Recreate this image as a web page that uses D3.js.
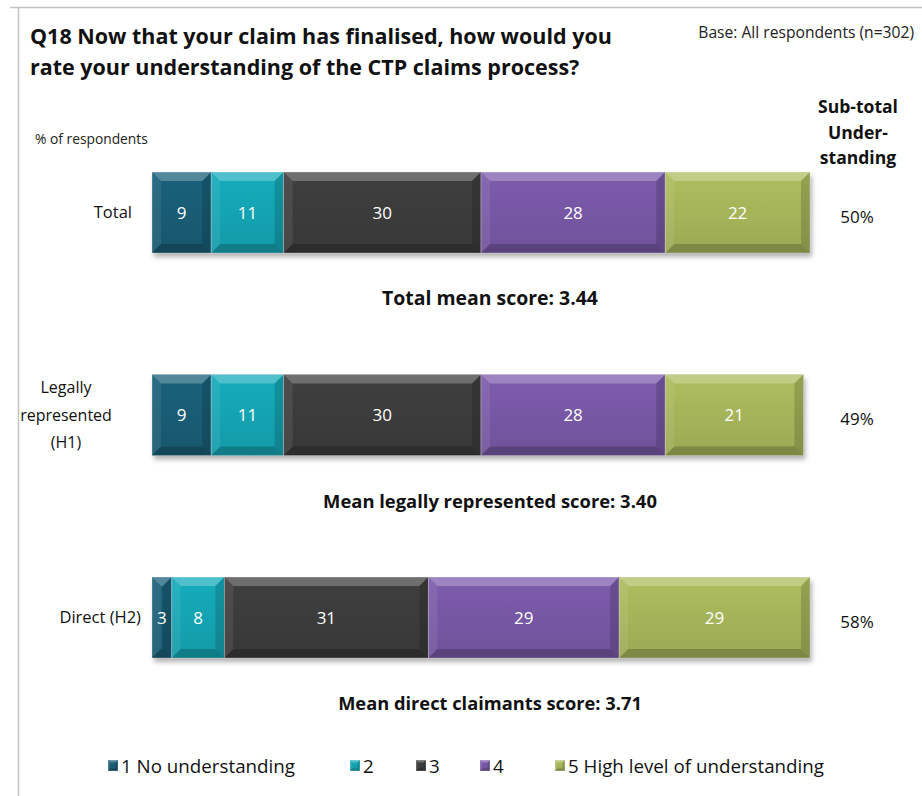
<!DOCTYPE html>
<html>
<head>
<meta charset="utf-8">
<script src="https://cdn.jsdelivr.net/npm/d3@7"></script>
<style>
  html, body { margin: 0; padding: 0; background: #fff; }
  svg { display: block; font-family: "Open Sans", Lato, sans-serif; }
</style>
</head>
<body>
<svg id="chart" width="922" height="796"></svg>
<script>
// Q18 understanding of the CTP claims process, % of respondents
const categories = ["Total", "Legally represented (H1)", "Direct (H2)"];
const categoryLines = [["Total"], ["Legally", "represented", "(H1)"], ["Direct (H2)"]];
const ratingLabels = ["1 No understanding", "2", "3", "4", "5 High level of understanding"];
const score1 = [9, 9, 3];
const score2 = [11, 11, 8];
const score3 = [30, 30, 31];
const score4 = [28, 28, 29];
const score5 = [22, 21, 29];
const subTotals = ["50%", "49%", "58%"];
const meanLabels = ["Total mean score: 3.44", "Mean legally represented score: 3.40", "Mean direct claimants score: 3.71"];
const seriesValues = [score1, score2, score3, score4, score5];
const xDomain = [0, 100];

const colors = ["#195d76", "#14a5b4", "#3c3c3c", "#7858a6", "#a7b65a"];

const svg = d3.select("#chart");
const defs = svg.append("defs");

// scale a text's font size so that it spans the given width
function fitWidth(sel, width) {
  const len = sel.node().getComputedTextLength();
  const fs = +sel.attr("font-size");
  const nfs = fs * width / len;
  sel.attr("font-size", nfs);
  return nfs;
}

// soft drop shadow under the bars
const shadow = defs.append("filter").attr("id", "shadow")
  .attr("x", "-5%").attr("y", "-10%").attr("width", "115%").attr("height", "140%");
shadow.append("feDropShadow").attr("dx", 2).attr("dy", 4).attr("stdDeviation", 2.5)
  .attr("flood-color", "#000").attr("flood-opacity", 0.3);

// vertical sheen for each colour
colors.forEach((c, i) => {
  const g = defs.append("linearGradient").attr("id", "grad" + i)
    .attr("x1", 0).attr("y1", 0).attr("x2", 0).attr("y2", 1);
  g.append("stop").attr("offset", "0%").attr("stop-color", d3.color(c).brighter(0.12));
  g.append("stop").attr("offset", "100%").attr("stop-color", d3.color(c).darker(0.2));
});

// frame
svg.append("line").attr("x1", 10).attr("x2", 922).attr("y1", 7.5).attr("y2", 7.5)
  .attr("stroke", "#c4c4c4").attr("stroke-width", 1.5);
svg.append("line").attr("x1", 18.5).attr("x2", 18.5).attr("y1", 7).attr("y2", 796)
  .attr("stroke", "#c4c4c4").attr("stroke-width", 1.5);

// title
const t1 = svg.append("text").attr("x", 30).attr("y", 44).attr("font-weight", 700)
  .attr("font-size", 20).attr("fill", "#111")
  .text("Q18 Now that your claim has finalised, how would you");
const titleSize = fitWidth(t1, 582);
svg.append("text").attr("x", 30).attr("y", 75).attr("font-weight", 700)
  .attr("font-size", titleSize).attr("fill", "#111")
  .text("rate your understanding of the CTP claims process?");

const base = svg.append("text").attr("x", 914).attr("y", 38).attr("text-anchor", "end")
  .attr("font-size", 12).attr("fill", "#222").text("Base: All respondents (n=302)");
fitWidth(base, 216);

const pct = svg.append("text").attr("x", 35).attr("y", 144).attr("font-size", 12).attr("fill", "#222")
  .text("% of respondents");
fitWidth(pct, 113);

const subLines = ["Sub-total", "Under-", "standing"];
let subSize = 15;
subLines.forEach((t, i) => {
  const s = svg.append("text").attr("x", 858).attr("y", 113 + i * 25.5)
    .attr("text-anchor", "middle").attr("font-weight", 700)
    .attr("font-size", 15).attr("fill", "#111").text(t);
  if (i === 0) subSize = fitWidth(s, 80); else s.attr("font-size", subSize);
});

// scales
const x = d3.scaleLinear().domain(xDomain).range([152, 810]);
const y = d3.scalePoint().domain(categories).range([212.5, 617.5]);
const barH = 81;

// stacked layout
const rows = categories.map((cat, ci) => {
  let acc = 0;
  return seriesValues.map((vals, si) => {
    const v = vals[ci];
    const seg = { cat, ci, si, v, x0: acc, x1: acc + v };
    acc += v;
    return seg;
  });
});

function bevelSegment(g, x0, x1, yTop, h, si, b, label, fontSize) {
  const w = x1 - x0;
  const bb = Math.min(b, w / 2, h / 2);
  g.append("rect").attr("x", x0).attr("y", yTop).attr("width", w).attr("height", h)
    .attr("fill", `url(#grad${si})`);
  const yb = yTop + h, xr = x1;
  const poly = (pts, fill, op) => g.append("polygon")
    .attr("points", pts.map(p => p.join(",")).join(" "))
    .attr("fill", fill).attr("fill-opacity", op);
  poly([[x0, yTop], [xr, yTop], [xr - bb, yTop + bb], [x0 + bb, yTop + bb]], "#fff", 0.25);
  poly([[x0, yTop], [x0 + bb, yTop + bb], [x0 + bb, yb - bb], [x0, yb]], "#fff", 0.08);
  poly([[xr, yTop], [xr, yb], [xr - bb, yb - bb], [xr - bb, yTop + bb]], "#000", 0.15);
  poly([[x0, yb], [xr, yb], [xr - bb, yb - bb], [x0 + bb, yb - bb]], "#000", 0.2);
  g.append("rect").attr("x", x0).attr("y", yTop).attr("width", w).attr("height", h)
    .attr("fill", "none").attr("stroke", "#fff").attr("stroke-opacity", 0.35).attr("stroke-width", 0.8);
  if (label !== null) {
    g.append("text").attr("x", (x0 + x1) / 2).attr("y", yTop + h / 2)
      .attr("dy", "0.36em").attr("text-anchor", "middle")
      .attr("font-size", fontSize).attr("fill", "#fff").text(label);
  }
}

const meanWidths = [216, 334, 304];

rows.forEach((segs, ci) => {
  const cy = y(categories[ci]);
  const yTop = cy - barH / 2;
  const g = svg.append("g");
  g.append("rect").attr("x", x(0)).attr("y", yTop)
    .attr("width", x(segs[segs.length - 1].x1) - x(0)).attr("height", barH)
    .attr("fill", "#888").attr("filter", "url(#shadow)");
  segs.forEach(s => bevelSegment(g, x(s.x0), x(s.x1), yTop, barH, s.si, 9, String(s.v), 17));

  // category label
  const lines = categoryLines[ci];
  const lab = svg.append("text").attr("font-size", 16.5).attr("fill", "#111");
  if (lines.length === 1) {
    lab.attr("text-anchor", "end").append("tspan")
      .attr("x", ci === 0 ? 132 : 141).attr("y", cy).attr("dy", "0.36em").text(lines[0]);
  } else {
    lab.attr("font-size", 16).attr("text-anchor", "middle");
    lines.forEach((t, i) => lab.append("tspan").attr("x", 66)
      .attr("y", cy + (i - (lines.length - 1) / 2) * 27.5).attr("dy", "0.36em").text(t));
  }

  svg.append("text").attr("x", 857).attr("y", cy + 4).attr("dy", "0.36em")
    .attr("text-anchor", "middle").attr("font-size", 17).attr("fill", "#111").text(subTotals[ci]);

  const m = svg.append("text").attr("x", 490).attr("y", cy + 86).attr("dy", "0.36em")
    .attr("text-anchor", "middle").attr("font-weight", 700).attr("font-size", 14)
    .attr("fill", "#111").text(meanLabels[ci]);
  fitWidth(m, meanWidths[ci]);
});

// legend
const legendX = [108, 350, 416, 480, 555];
const lg = svg.append("g");
let legendSize = 16;
ratingLabels.forEach((t, i) => {
  const gx = legendX[i];
  const sq = lg.append("g");
  bevelSegment(sq, gx, gx + 10, 760, 11, i, 2.5, null, 0);
  const lt = lg.append("text").attr("x", gx + 13).attr("y", 766).attr("dy", "0.36em")
    .attr("font-size", 16).attr("fill", "#111").text(t);
  if (i === 0) legendSize = fitWidth(lt, 174); else lt.attr("font-size", legendSize);
});
</script>
</body>
</html>
